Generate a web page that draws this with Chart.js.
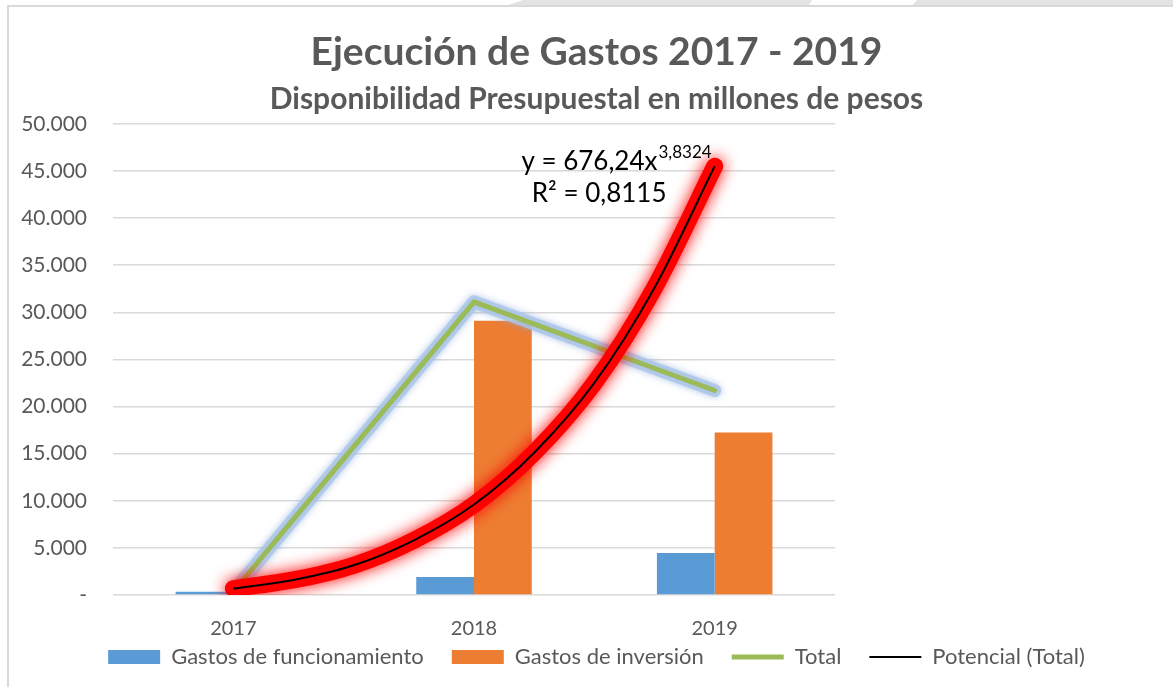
<!DOCTYPE html>
<html>
<head>
<meta charset="utf-8">
<script src="https://cdn.jsdelivr.net/npm/chart.js@4.4.1/dist/chart.umd.min.js"></script>
<style>
    html, body { margin: 0; padding: 0; background: #fff; }
    #wrap { position: relative; width: 1173px; height: 687px; overflow: hidden; }
    #frame {
        position: absolute; left: 7px; top: 5px; right: -10px; bottom: -10px;
        border-left: 2px solid #d9d9d9; border-top: 2px solid #d9d9d9;
    }
    .tab { position: absolute; top: 0; height: 5px; background: #e3e3e3; }
    canvas { position: absolute; left: 0; top: 0; }
</style>
</head>
<body>
<div id="wrap">
    <div class="tab" style="left:508px;width:304px;clip-path:polygon(5% 0,100% 0,99% 100%,0 100%)"></div>
    <div class="tab" style="left:912px;width:261px;clip-path:polygon(2% 0,100% 0,100% 100%,0 100%)"></div>
    <div id="frame"></div>
    <canvas id="chart" width="1173" height="687"></canvas>
</div>
<script>
// values (millones de pesos)
const years = ["2017", "2018", "2019"];
const funcionamiento = [350, 1900, 4450];
const inversion = [0, 29100, 17250];
const total = [350, 31100, 21700];

// power trendline of Total (x = period 1..3)
const trendX = [1, 1.25, 1.5, 1.75, 2, 2.25, 2.5, 2.75, 3];
const trendY = [680, 1600, 3150, 5800, 9600, 15100, 22500, 32600, 45500];

const yMax = 50000;
const yStep = 5000;

const eqText = "y = 676,24x";
const eqExp = "3,8324";
const r2Text = "R² = 0,8115";
const eqAt = [2.59, 46000];
const r2At = [2.52, 42600];

const FONT = "Lato";
const GREY = "#595959";

// soft glow behind a dataset (Excel "glow" effect)
const glowPlugin = {
    id: "glow",
    beforeDatasetDraw(chart, args) {
        const ds = chart.data.datasets[args.index];
        if (!ds.glow) return;
        chart.ctx.save();
        chart.ctx.shadowColor = ds.glow.color;
        chart.ctx.shadowBlur = ds.glow.blur;
    },
    afterDatasetDraw(chart, args) {
        const ds = chart.data.datasets[args.index];
        if (ds.glow) chart.ctx.restore();
    },
};

// trendline equation and R², placed in period units on the category axis
const trendLabel = {
    id: "trendLabel",
    afterDatasetsDraw(chart) {
        const ctx = chart.ctx;
        const xs = chart.scales.x;
        const ys = chart.scales.y;
        ctx.save();
        ctx.fillStyle = "#000";
        ctx.textBaseline = "middle";
        ctx.textAlign = "left";

        ctx.font = `26px ${FONT}`;
        const w1 = ctx.measureText(eqText).width;
        ctx.font = `17px ${FONT}`;
        const w2 = ctx.measureText(eqExp).width;
        const x = xs.getPixelForValue(eqAt[0] - 1) - (w1 + w2) / 2;
        const y = ys.getPixelForValue(eqAt[1]);
        ctx.font = `26px ${FONT}`;
        ctx.fillText(eqText, x, y);
        ctx.font = `17px ${FONT}`;
        ctx.fillText(eqExp, x + w1 + 1, y - 9);

        ctx.font = `26px ${FONT}`;
        ctx.textAlign = "center";
        ctx.fillText(r2Text, xs.getPixelForValue(r2At[0] - 1), ys.getPixelForValue(r2At[1]));
        ctx.restore();
    },
};

const canvas = document.getElementById("chart");
const ctx = canvas.getContext("2d");

// category index = period - 1
const trendPoints = trendX.map((x, i) => ({ x: x - 1, y: trendY[i] }));

new Chart(ctx, {
    type: "bar",
    data: {
        labels: years,
        datasets: [
            {
                label: "Gastos de funcionamiento",
                data: funcionamiento,
                backgroundColor: "#5b9bd5",
                order: 5,
            },
            {
                label: "Gastos de inversión",
                data: inversion,
                backgroundColor: "#ed7d31",
                order: 5,
            },
            {
                // blue halo under the Total line
                type: "line",
                label: "total-glow",
                data: total,
                borderColor: "rgba(170,198,232,0.8)",
                borderWidth: 13,
                borderCapStyle: "round",
                borderJoinStyle: "round",
                pointRadius: 0,
                tension: 0,
                hideInLegend: true,
                glow: { color: "rgba(140,172,220,0.85)", blur: 7 },
                order: 4,
            },
            {
                type: "line",
                label: "Total",
                data: total,
                borderColor: "#9bbb59",
                borderWidth: 5,
                borderCapStyle: "round",
                borderJoinStyle: "round",
                pointRadius: 0,
                tension: 0,
                order: 3,
            },
            {
                // red halo under the trendline
                type: "line",
                label: "trend-glow",
                data: trendPoints,
                parsing: false,
                borderColor: "#ff0000",
                borderWidth: 17,
                borderCapStyle: "round",
                pointRadius: 0,
                cubicInterpolationMode: "monotone",
                hideInLegend: true,
                glow: { color: "rgba(255,0,0,1)", blur: 16 },
                order: 2,
            },
            {
                type: "line",
                label: "Potencial (Total)",
                data: trendPoints,
                parsing: false,
                borderColor: "#000000",
                borderWidth: 2,
                pointRadius: 0,
                cubicInterpolationMode: "monotone",
                order: 1,
            },
        ],
    },
    options: {
        responsive: false,
        animation: false,
        layout: { padding: { left: 20, right: 0, top: 10, bottom: 9 } },
        datasets: {
            bar: { categoryPercentage: 0.48, barPercentage: 1 },
        },
        plugins: {
            title: {
                display: true,
                text: "Ejecución de Gastos 2017 - 2019",
                color: GREY,
                font: { family: FONT, size: 39, weight: "bold" },
                padding: { top: 19, bottom: 4 },
            },
            subtitle: {
                display: true,
                text: "Disponibilidad Presupuestal en millones de pesos",
                color: GREY,
                font: { family: FONT, size: 30, weight: "bold" },
                padding: { top: 2, bottom: 6 },
            },
            legend: {
                position: "bottom",
                labels: {
                    color: GREY,
                    font: { family: FONT, size: 22 },
                    usePointStyle: true,
                    pointStyleWidth: 52,
                    boxHeight: 14,
                    padding: 28,
                    generateLabels(chart) {
                        const items = Chart.defaults.plugins.legend.labels.generateLabels(chart);
                        return items
                            .filter((it) => !chart.data.datasets[it.datasetIndex].hideInLegend)
                            .sort((a, b) => a.datasetIndex - b.datasetIndex)
                            .map((it) => {
                                const ds = chart.data.datasets[it.datasetIndex];
                                if (ds.type === "line") {
                                    it.pointStyle = "line";
                                    it.strokeStyle = ds.borderColor;
                                    it.lineWidth = ds.borderWidth;
                                } else {
                                    it.pointStyle = "rect";
                                    it.fillStyle = ds.backgroundColor;
                                    it.lineWidth = 0;
                                }
                                return it;
                            });
                    },
                },
            },
            tooltip: { enabled: false },
        },
        scales: {
            x: {
                offset: true,
                grid: { display: false },
                border: { display: false },
                ticks: { color: GREY, font: { family: FONT, size: 20 }, padding: 14 },
                afterFit(scale) {
                    // labels hang into the legend band, as in the original
                    scale.height = 23;
                    scale._computeLabelArea = () => undefined;
                },
            },
            y: {
                min: 0,
                max: yMax,
                border: { display: false },
                grid: { color: "#d9d9d9", lineWidth: 1.5, drawTicks: false },
                ticks: {
                    stepSize: yStep,
                    color: GREY,
                    font: { family: FONT, size: 21 },
                    padding: 26,
                    callback: (v) => (v === 0 ? "-" : v.toLocaleString("de-DE")),
                },
                afterFit(scale) {
                    scale.width = 93;
                },
            },
            pad: {
                type: "linear",
                position: "right",
                grid: { display: false },
                border: { display: false },
                ticks: { display: false },
                afterFit(scale) {
                    scale.width = 338;
                },
            },
        },
    },
    plugins: [glowPlugin, trendLabel],
});
</script>
</body>
</html>
